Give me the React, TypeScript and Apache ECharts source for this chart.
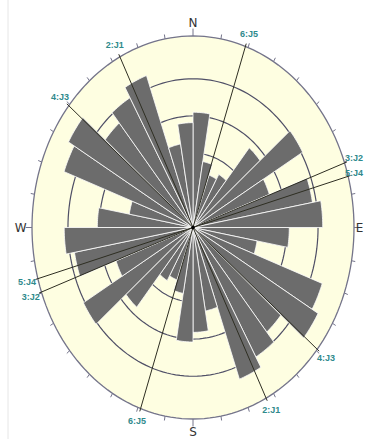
import React, { useEffect, useRef } from "react";
import * as echarts from "echarts";

// ---- data ----
const OUTER_RADIUS = 5.15; // frame radius in ring units
const RING_VALUES = [1, 2, 3, 4];
const BIN_WIDTH = 10;
const BIN_STARTS = [
  0, 10, 20, 30, 40, 50, 60, 70, 80, 90, 100, 110, 120, 130, 140, 150, 160, 170,
  180, 190, 200, 210, 220, 230, 240, 250, 260, 270, 280, 290, 300, 310, 320, 330, 340, 350,
];
const BAR_LENGTHS = [
  3.1, 1.8, 1.5, 1.65, 2.8, 4.05, 2.6, 3.88, 4.15,
  3.08, 2.08, 4.4, 4.62, 3.67, 4.02, 4.34, 2.28, 2.82,
  3.08, 1.8, 1.5, 1.65, 2.8, 4.05, 2.62, 3.85, 4.12,
  3.06, 2.07, 4.39, 4.6, 3.67, 4.03, 4.35, 2.28, 2.82,
];
const JOINT_LABELS = ["2:J1", "3:J2", "4:J3", "5:J4", "6:J5"];
const JOINT_AZIMUTHS = [333, 70.3, 309.5, 74.5, 19];
const COMPASS_LABELS = ["N", "E", "S", "W"];
const COMPASS_ANGLES = [0, 90, 180, 270];
const TICK_ANGLES = [
  0, 10, 20, 30, 40, 50, 60, 70, 80, 90, 100, 110, 120, 130, 140, 150, 160, 170,
  180, 190, 200, 210, 220, 230, 240, 250, 260, 270, 280, 290, 300, 310, 320, 330, 340, 350,
];

const CREAM = "#fefee1";
const BAR_GRAY = "#6c6c6c";
const RING_COLOR = "#4f4f66";
const FRAME_COLOR = "#74748a";
const JOINT_COLOR = "#2e2e22";
const LABEL_TEAL = "#2f8a8c";
const PAGE_RIGHT = 364;

function toXY(r: number, deg: number): [number, number] {
  const a = (deg * Math.PI) / 180;
  return [r * Math.sin(a), r * Math.cos(a)];
}

export default function App() {
  const ref = useRef<HTMLDivElement>(null);
  useEffect(() => {
    if (!ref.current) return;
    const chart = echarts.init(ref.current, null, { renderer: "svg" });
    const R = OUTER_RADIUS;
    const pt = (api: any, r: number, deg: number) => api.coord(toXY(r, deg));
    const ringPoints = (api: any, r: number) => {
      const pts: number[][] = [];
      for (let d = 0; d <= 360; d += 2) pts.push(pt(api, r, d));
      return pts;
    };
    const fitX = (x: number, halfWidth: number) =>
      x + halfWidth > PAGE_RIGHT ? PAGE_RIGHT - halfWidth : x;

    const option: any = {
      animation: false,
      backgroundColor: "#ffffff",
      grid: { left: 32, top: 36, width: 322, height: 383 },
      xAxis: { type: "value", min: -R, max: R, show: false },
      yAxis: { type: "value", min: -R, max: R, show: false },
      graphic: [
        {
          type: "line",
          shape: { x1: 8, y1: 0, x2: 8, y2: 439 },
          style: { stroke: "#e6e6e6", lineWidth: 1 },
        },
      ],
      series: [
        {
          type: "custom",
          name: "frame",
          coordinateSystem: "cartesian2d",
          clip: false,
          z: 1,
          data: [[R]],
          renderItem: (params: any, api: any) => ({
            type: "polygon",
            shape: { points: ringPoints(api, api.value(0)) },
            style: { fill: CREAM, stroke: FRAME_COLOR, lineWidth: 1.3 },
          }),
        },
        {
          type: "custom",
          name: "ticks",
          coordinateSystem: "cartesian2d",
          clip: false,
          z: 2,
          data: TICK_ANGLES.map((a) => [a]),
          renderItem: (params: any, api: any) => {
            const a = api.value(0);
            const len = a % 90 === 0 ? 0.2 : 0.12;
            const p1 = pt(api, R, a);
            const p2 = pt(api, R + len, a);
            return {
              type: "line",
              shape: { x1: p1[0], y1: p1[1], x2: p2[0], y2: p2[1] },
              style: { stroke: FRAME_COLOR, lineWidth: 1 },
            };
          },
        },
        {
          type: "custom",
          name: "rings",
          coordinateSystem: "cartesian2d",
          clip: false,
          z: 2,
          data: RING_VALUES.map((v) => [v]),
          renderItem: (params: any, api: any) => ({
            type: "polyline",
            shape: { points: ringPoints(api, api.value(0)) },
            style: { fill: "none", stroke: RING_COLOR, lineWidth: 1.2 },
          }),
        },
        {
          type: "custom",
          name: "bars",
          coordinateSystem: "cartesian2d",
          clip: false,
          z: 3,
          data: BIN_STARTS.map((s, i) => [s, BAR_LENGTHS[i]]),
          renderItem: (params: any, api: any) => {
            const s = api.value(0);
            const L = api.value(1);
            const pts: number[][] = [pt(api, 0, 0)];
            for (let d = s; d <= s + BIN_WIDTH + 0.001; d += 1) pts.push(pt(api, L, d));
            return {
              type: "polygon",
              shape: { points: pts },
              style: { fill: BAR_GRAY, stroke: "#ffffff", lineWidth: 0.8 },
            };
          },
        },
        {
          type: "custom",
          name: "joints",
          coordinateSystem: "cartesian2d",
          clip: false,
          z: 4,
          data: JOINT_AZIMUTHS.map((a, i) => [a, i]),
          renderItem: (params: any, api: any) => {
            const a = api.value(0);
            const label = JOINT_LABELS[api.value(1)];
            const p1 = pt(api, R + 0.08, a);
            const p2 = pt(api, R + 0.08, a + 180);
            const t1 = pt(api, R + 0.36, a);
            const t2 = pt(api, R + 0.36, a + 180);
            const textEl = (p: number[]) => ({
              type: "text",
              x: fitX(p[0], 10),
              y: p[1],
              style: {
                text: label,
                fill: LABEL_TEAL,
                fontSize: 9,
                fontWeight: "bold",
                fontFamily: "Liberation Sans, Arial, sans-serif",
                textAlign: "center",
                textVerticalAlign: "middle",
                align: "center",
                verticalAlign: "middle",
              },
            });
            return {
              type: "group",
              children: [
                {
                  type: "line",
                  shape: { x1: p1[0], y1: p1[1], x2: p2[0], y2: p2[1] },
                  style: { stroke: JOINT_COLOR, lineWidth: 1 },
                },
                textEl(t1),
                textEl(t2),
              ],
            };
          },
        },
        {
          type: "custom",
          name: "center",
          coordinateSystem: "cartesian2d",
          clip: false,
          z: 5,
          data: [[0, 0]],
          renderItem: (params: any, api: any) => {
            const c = api.coord([api.value(0), api.value(1)]);
            return {
              type: "circle",
              shape: { cx: c[0], cy: c[1], r: 1.8 },
              style: { fill: "#000000" },
            };
          },
        },
        {
          type: "custom",
          name: "compass",
          coordinateSystem: "cartesian2d",
          clip: false,
          z: 5,
          data: COMPASS_ANGLES.map((a, i) => [a, i]),
          renderItem: (params: any, api: any) => {
            const a = api.value(0);
            const p = pt(api, R + 0.36, a);
            return {
              type: "text",
              x: fitX(p[0], 4.5),
              y: p[1],
              style: {
                text: COMPASS_LABELS[api.value(1)],
                fill: "#333333",
                fontSize: 12,
                fontFamily: "DejaVu Sans, sans-serif",
                textAlign: "center",
                textVerticalAlign: "middle",
                align: "center",
                verticalAlign: "middle",
              },
            };
          },
        },
      ],
    };
    chart.setOption(option);
    return () => chart.dispose();
  }, []);
  return (
    <div
      ref={ref}
      style={{ position: "absolute", left: 0, top: 0, width: 365, height: 439 }}
    />
  );
}
